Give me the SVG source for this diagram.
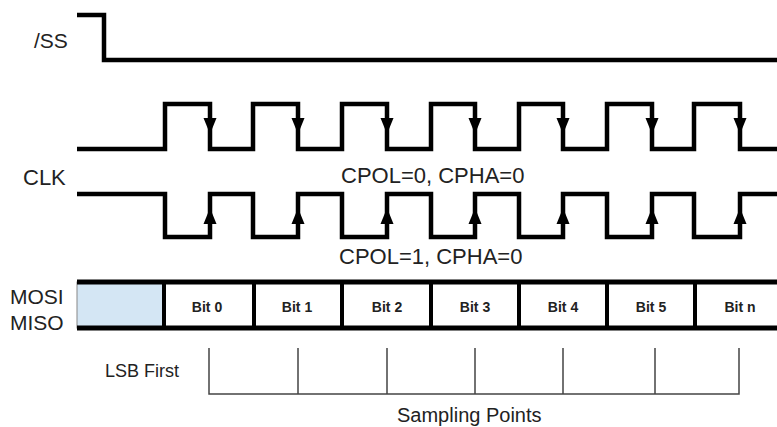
<svg xmlns="http://www.w3.org/2000/svg" width="777" height="427" viewBox="0 0 777 427">
<style>
.wave{fill:none;stroke:#000;stroke-width:4.5;stroke-linejoin:miter;stroke-linecap:butt}
.lbl{font-family:"Liberation Sans",Arial,sans-serif;fill:#222;font-size:21px}
.bit{font-family:"Liberation Sans",Arial,sans-serif;fill:#222;font-size:14px;font-weight:bold;text-anchor:middle}
.div{stroke:#000;stroke-width:4}
.samp{fill:none;stroke:#444;stroke-width:1.5}
.arr{fill:#000}
</style>
<rect width="777" height="427" fill="#fff"/>
<g id="ss">
<text class="lbl" x="34" y="48">/SS</text>
<path class="wave" d="M77,15 H104 V60 H777"/>
</g>
<g id="clk-label">
<text class="lbl" x="23" y="185" style="font-size:22px">CLK</text>
</g>
<g id="clk-cpol0">
<path class="wave" d="M77,149 H165 V104 H210 V149 H253 V104 H298 V149 H342 V104 H387 V149 H431 V104 H475 V149 H519 V104 H563 V149 H607 V104 H652 V149 H694 V104 H740 V149 H777"/>
<g class="arr">
<polygon points="203.5,118 216.5,118 210,134"/>
<polygon points="291.5,118 304.5,118 298,134"/>
<polygon points="380.5,118 393.5,118 387,134"/>
<polygon points="468.5,118 481.5,118 475,134"/>
<polygon points="556.5,118 569.5,118 563,134"/>
<polygon points="645.5,118 658.5,118 652,134"/>
<polygon points="733.5,118 746.5,118 740,134"/>
</g>
<text class="lbl" x="341" y="183" style="font-size:22px">CPOL=0, CPHA=0</text>
</g>
<g id="clk-cpol1">
<path class="wave" d="M77,194 H165 V237 H210 V194 H253 V237 H298 V194 H342 V237 H387 V194 H431 V237 H475 V194 H519 V237 H563 V194 H607 V237 H652 V194 H694 V237 H740 V194 H777"/>
<g class="arr">
<polygon points="203.5,224 216.5,224 210,208"/>
<polygon points="291.5,224 304.5,224 298,208"/>
<polygon points="380.5,224 393.5,224 387,208"/>
<polygon points="468.5,224 481.5,224 475,208"/>
<polygon points="556.5,224 569.5,224 563,208"/>
<polygon points="645.5,224 658.5,224 652,208"/>
<polygon points="733.5,224 746.5,224 740,208"/>
</g>
<text class="lbl" x="339" y="264" style="font-size:22px">CPOL=1, CPHA=0</text>
</g>
<g id="data">
<text class="lbl" x="10" y="304">MOSI</text>
<text class="lbl" x="10" y="330">MISO</text>
<rect x="77" y="282" width="87" height="46" fill="#d4e6f4" stroke="#888" stroke-width="1"/>
<line x1="77" y1="282" x2="777" y2="282" stroke="#000" stroke-width="5"/>
<line x1="77" y1="328" x2="777" y2="328" stroke="#000" stroke-width="5"/>
<line class="div" x1="164" y1="282" x2="164" y2="328"/>
<line class="div" x1="254" y1="282" x2="254" y2="328"/>
<line class="div" x1="342" y1="282" x2="342" y2="328"/>
<line class="div" x1="431" y1="282" x2="431" y2="328"/>
<line class="div" x1="519" y1="282" x2="519" y2="328"/>
<line class="div" x1="607" y1="282" x2="607" y2="328"/>
<line class="div" x1="695" y1="282" x2="695" y2="328"/>
<text class="bit" x="207" y="312">Bit 0</text>
<text class="bit" x="297" y="312">Bit 1</text>
<text class="bit" x="387" y="312">Bit 2</text>
<text class="bit" x="475" y="312">Bit 3</text>
<text class="bit" x="563" y="312">Bit 4</text>
<text class="bit" x="651" y="312">Bit 5</text>
<text class="bit" x="740" y="312">Bit n</text>
</g>
<g id="sampling">
<text class="lbl" x="105" y="377" style="font-size:18px">LSB First</text>
<path class="samp" d="M209,348 V394 H739 V348 M298,348 V394 M387,348 V394 M475,348 V394 M563,348 V394 M655,348 V394"/>
<text class="lbl" x="397" y="422" style="font-size:20px">Sampling Points</text>
</g>
</svg>
